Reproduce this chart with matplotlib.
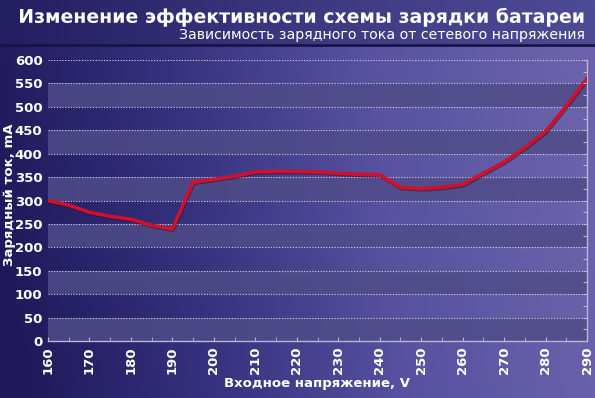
import numpy as np
import matplotlib.pyplot as plt
import matplotlib.patheffects as pe
from matplotlib.colors import LinearSegmentedColormap
from matplotlib.ticker import MultipleLocator

# данные
voltage = [160, 165, 170, 175, 180, 185, 190, 195, 200, 205, 210, 215, 220, 225,
           230, 235, 240, 245, 250, 255, 260, 265, 270, 275, 280, 285, 290]
current = [300, 290, 275, 266, 260, 247, 239, 339, 345, 352, 361, 362, 362, 361,
           358, 356, 355, 328, 325, 328, 334, 358, 382, 413, 447, 502, 560]
yticks = list(range(0, 601, 50))
xticks = list(range(160, 291, 10))

title = "Изменение эффективности схемы зарядки батареи"
subtitle = "Зависимость зарядного тока от сетевого напряжения"
xlabel = "Входное напряжение, V"
ylabel = "Зарядный ток, mA"

fig = plt.figure(figsize=(5.95, 3.98), dpi=100)

# фон - градиент
bg = fig.add_axes([0, 0, 1, 1], zorder=-10)
cmap = LinearSegmentedColormap.from_list("bg", ["#1f195a", "#36327e", "#5852a0", "#6a62aa"])
grad = np.linspace(0, 1, 256).reshape(1, -1)
grad = grad + np.linspace(0.06, -0.03, 100).reshape(-1, 1)
bg.imshow(np.clip(grad, 0, 1), aspect="auto", cmap=cmap, extent=[0, 1, 0, 1])
# шапка
hcmap = LinearSegmentedColormap.from_list("hd", ["#231e60", "#3c3880", "#4c4c94"])
bg.imshow(np.linspace(0, 1, 256).reshape(1, -1), aspect="auto", cmap=hcmap,
          extent=[0, 1, 1 - 44 / 398, 1])
bg.axhline(1 - 45 / 398, color="#18144a", lw=2)
bg.set_xlim(0, 1)
bg.set_ylim(0, 1)
bg.axis("off")

fig.text(0.983, 1 - 17 / 398, title, ha="right", va="center", color="white",
         fontsize=13.6, fontweight="bold",
         path_effects=[pe.SimpleLineShadow(offset=(1.5, -1.5), shadow_color="#0a0830", alpha=0.9), pe.Normal()])
fig.text(0.983, 1 - 35 / 398, subtitle, ha="right", va="center", color="white", fontsize=10.2)

ax = fig.add_axes([48 / 595, 1 - 341 / 398, 539 / 595, 281 / 398])
ax.patch.set_alpha(0)

for lo in range(0, 600, 100):
    ax.axhspan(lo, lo + 50, color="#504c88", alpha=0.85, lw=0, zorder=0)
for y in yticks[1:]:
    ax.axhline(y, color="#d8d6f0", lw=0.8, ls=(0, (1, 1.5)), zorder=1)

ax.plot(voltage, current, color="#d0102c", lw=2.6, zorder=3,
        path_effects=[pe.SimpleLineShadow(offset=(0.5, -0.8), shadow_color="#300818", alpha=0.5), pe.Normal()])

ax.set_xlim(160, 290)
ax.set_ylim(0, 600)
ax.set_xticks(xticks)
ax.set_yticks(yticks)
ax.xaxis.set_minor_locator(MultipleLocator(5))
ax.tick_params(axis="x", which="both", direction="in", length=3, color="#b8b4dc",
               labelrotation=90, labelsize=9.5, labelcolor="white", pad=4)
ax.tick_params(axis="y", length=0, labelsize=9.5, labelcolor="white", pad=4)
for lab in ax.get_xticklabels() + ax.get_yticklabels():
    lab.set_fontweight("bold")

for s in ["left", "top"]:
    ax.spines[s].set_visible(False)
for s in ["bottom", "right"]:
    ax.spines[s].set_color("#b8b4dc")
    ax.spines[s].set_linewidth(1)

# засечки справа
ax2 = ax.twinx()
ax2.set_ylim(0, 600)
ax2.yaxis.set_major_locator(MultipleLocator(25))
ax2.tick_params(axis="y", direction="in", length=3, color="#b8b4dc", labelright=False)
for s in ["left", "top", "bottom", "right"]:
    ax2.spines[s].set_visible(False)

fig.text(317 / 595, 1 - 383 / 398, xlabel, ha="center", va="center", color="white",
         fontsize=9.5, fontweight="bold")
fig.text(10 / 595, 1 - 195 / 398, ylabel, ha="center", va="center", color="white",
         fontsize=9.5, fontweight="bold", rotation=90)

fig.savefig("out.png", dpi=100)
